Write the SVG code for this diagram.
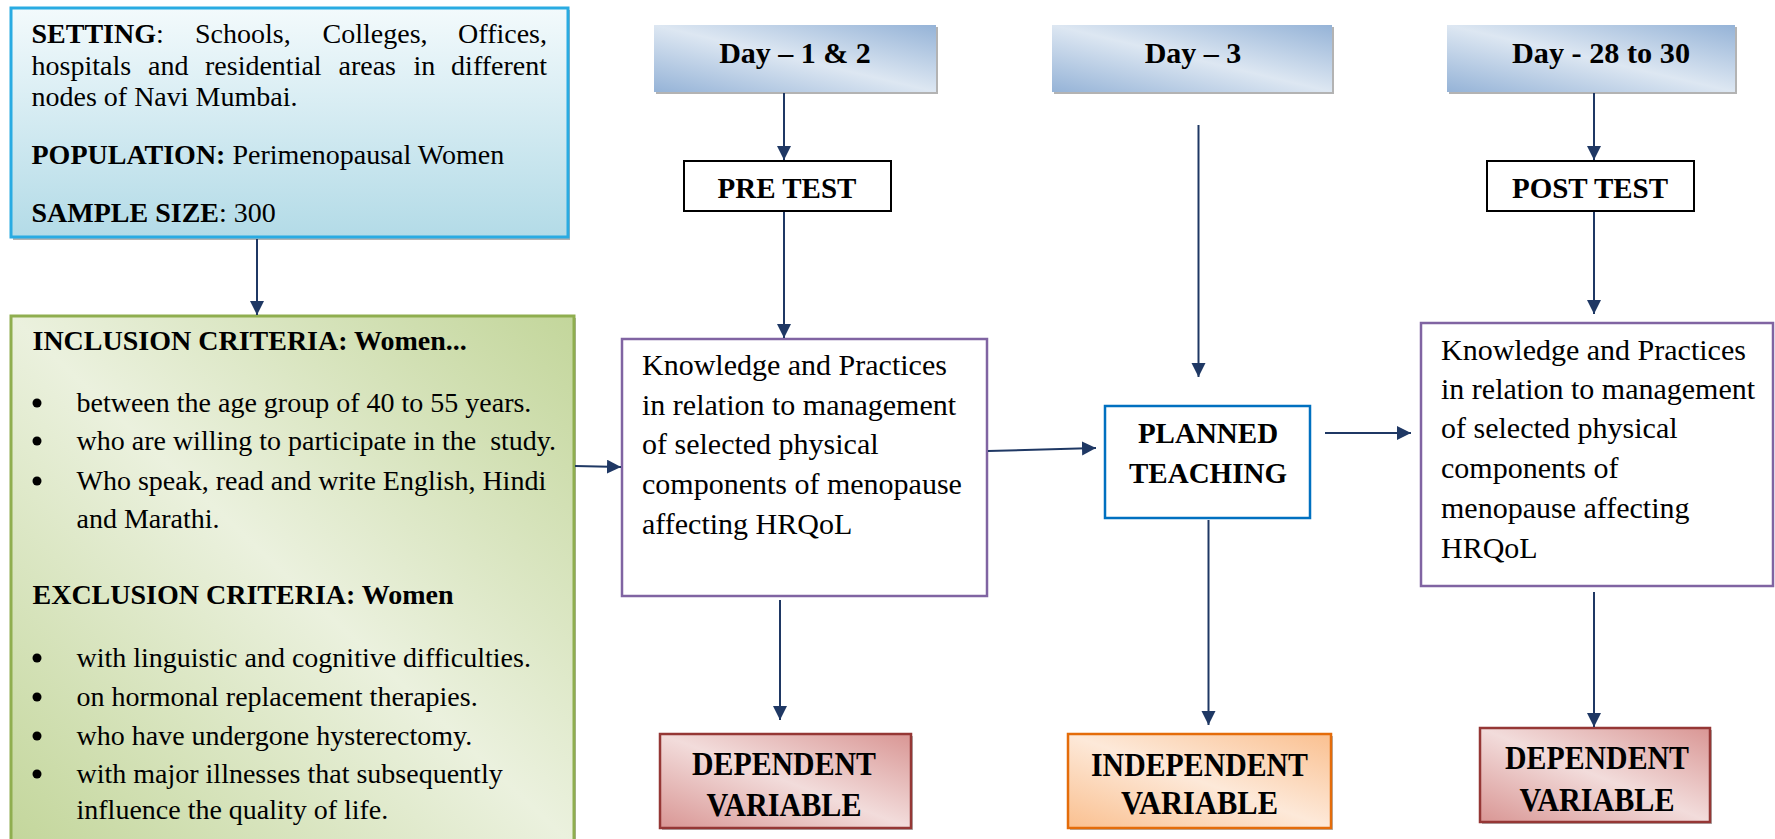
<svg xmlns="http://www.w3.org/2000/svg" width="1775" height="839" viewBox="0 0 1775 839">
<style>
text{font-family:"Liberation Serif","Times New Roman",serif;fill:#000}
.t28{font-size:28px}
.t30{font-size:30px}
.b{font-weight:bold}
.hd{font-size:29px;font-weight:bold;text-anchor:middle}
.day{font-size:30px;font-weight:bold;text-anchor:middle}
.var{font-size:33px;font-weight:bold;text-anchor:middle}
.conn{stroke:#1f3864;stroke-width:2;fill:none;marker-end:url(#ah)}
.shadow{fill:#9a9a9a;opacity:0.75}
</style>
<defs>
<marker id="ah" markerUnits="userSpaceOnUse" markerWidth="16" markerHeight="16" refX="14" refY="7" orient="auto">
<path d="M0,0 L14,7 L0,14 z" fill="#1f3864"/>
</marker>
<linearGradient id="gSet" x1="0" y1="0" x2="0" y2="1">
<stop offset="0" stop-color="#f3fafc"/>
<stop offset="1" stop-color="#b3dbe7"/>
</linearGradient>
<linearGradient id="gGreen" x1="1" y1="0" x2="0" y2="1">
<stop offset="0" stop-color="#c3d69b"/>
<stop offset="0.5" stop-color="#ebf1de"/>
<stop offset="1" stop-color="#c3d69b"/>
</linearGradient>
<linearGradient id="gDay" x1="1" y1="0" x2="0" y2="1">
<stop offset="0" stop-color="#95b3d7"/>
<stop offset="0.5" stop-color="#dde7f2"/>
<stop offset="1" stop-color="#95b3d7"/>
</linearGradient>
<linearGradient id="gDep" x1="1" y1="0" x2="0" y2="1">
<stop offset="0" stop-color="#d99694"/>
<stop offset="0.5" stop-color="#f2dcdb"/>
<stop offset="1" stop-color="#d99694"/>
</linearGradient>
<linearGradient id="gInd" x1="1" y1="0" x2="0" y2="1">
<stop offset="0" stop-color="#fac090"/>
<stop offset="0.5" stop-color="#fde9d9"/>
<stop offset="1" stop-color="#fac090"/>
</linearGradient>
</defs>
<rect width="1775" height="839" fill="#ffffff"/>

<g id="setting">
<rect class="shadow" x="13" y="10" width="557" height="230"/>
<rect x="11" y="8" width="557" height="229" fill="url(#gSet)" stroke="#29abe2" stroke-width="3"/>
<text class="t28" y="43"><tspan x="31.5" class="b">SETTING</tspan><tspan>:</tspan><tspan x="195">Schools,</tspan><tspan x="322.6">Colleges,</tspan><tspan x="547" text-anchor="end">Offices,</tspan></text>
<text class="t28" y="75"><tspan x="31.5">hospitals</tspan><tspan x="148">and</tspan><tspan x="205">residential</tspan><tspan x="338.5">areas</tspan><tspan x="413.6">in</tspan><tspan x="547" text-anchor="end">different</tspan></text>
<text class="t28" x="31.5" y="106">nodes of Navi Mumbai.</text>
<text class="t28" x="31.5" y="164"><tspan class="b">POPULATION:</tspan> Perimenopausal Women</text>
<text class="t28" x="31.5" y="222"><tspan class="b">SAMPLE SIZE</tspan>: 300</text>
</g>

<g id="criteria">
<rect class="shadow" x="13" y="318" width="563" height="530"/>
<rect x="11" y="316" width="563" height="530" fill="url(#gGreen)" stroke="#8fae4f" stroke-width="3"/>
<text class="t28 b" x="32.5" y="350">INCLUSION CRITERIA: Women...</text>
<circle cx="37" cy="403" r="4.5" fill="#000"/>
<circle cx="37" cy="441" r="4.5" fill="#000"/>
<circle cx="37" cy="481" r="4.5" fill="#000"/>
<text class="t28" x="76.5" y="412">between the age group of 40 to 55 years.</text>
<text class="t28" x="76.5" y="450" xml:space="preserve">who are willing to participate in the  study.</text>
<text class="t28" x="76.5" y="490">Who speak, read and write English, Hindi</text>
<text class="t28" x="76.5" y="528">and Marathi.</text>
<text class="t28 b" x="32.5" y="604">EXCLUSION CRITERIA: Women</text>
<circle cx="37" cy="658" r="4.5" fill="#000"/>
<circle cx="37" cy="697" r="4.5" fill="#000"/>
<circle cx="37" cy="736" r="4.5" fill="#000"/>
<circle cx="37" cy="774" r="4.5" fill="#000"/>
<text class="t28" x="76.5" y="667">with linguistic and cognitive difficulties.</text>
<text class="t28" x="76.5" y="706">on hormonal replacement therapies.</text>
<text class="t28" x="76.5" y="745">who have undergone hysterectomy.</text>
<text class="t28" x="76.5" y="783">with major illnesses that subsequently</text>
<text class="t28" x="76.5" y="819">influence the quality of life.</text>
</g>

<g id="day12">
<rect class="shadow" x="656" y="27" width="282" height="67"/>
<rect x="654" y="25" width="282" height="67" fill="url(#gDay)"/>
<text class="day" x="795" y="63">Day – 1 &amp; 2</text>
</g>
<g id="day3">
<rect class="shadow" x="1054" y="27" width="280" height="67"/>
<rect x="1052" y="25" width="280" height="67" fill="url(#gDay)"/>
<text class="day" x="1193" y="63">Day – 3</text>
</g>
<g id="day28">
<rect class="shadow" x="1449" y="27" width="288" height="67"/>
<rect x="1447" y="25" width="288" height="67" fill="url(#gDay)"/>
<text class="day" x="1601" y="63" textLength="178" lengthAdjust="spacingAndGlyphs">Day - 28 to 30</text>
</g>

<g id="pretest">
<rect x="684" y="161" width="207" height="50" fill="#fff" stroke="#000" stroke-width="2"/>
<text class="hd" x="787" y="198">PRE TEST</text>
</g>
<g id="posttest">
<rect x="1487" y="161" width="207" height="50" fill="#fff" stroke="#000" stroke-width="2"/>
<text class="hd" x="1590" y="198">POST TEST</text>
</g>

<g id="knowledge1">
<rect x="622" y="339" width="365" height="257" fill="#fff" stroke="#8064a2" stroke-width="2.5"/>
<text class="t30" x="642" y="375">Knowledge and Practices</text>
<text class="t30" x="642" y="415">in relation to management</text>
<text class="t30" x="642" y="454">of selected physical</text>
<text class="t30" x="642" y="494">components of menopause</text>
<text class="t30" x="642" y="534">affecting HRQoL</text>
</g>

<g id="planned">
<rect x="1105" y="406" width="205" height="112" fill="#fff" stroke="#0070c0" stroke-width="2.5"/>
<text class="hd" x="1208" y="443">PLANNED</text>
<text class="hd" x="1208" y="483">TEACHING</text>
</g>

<g id="knowledge2">
<rect x="1421" y="323" width="352" height="263" fill="#fff" stroke="#8064a2" stroke-width="2.5"/>
<text class="t30" x="1441" y="360">Knowledge and Practices</text>
<text class="t30" x="1441" y="399">in relation to management</text>
<text class="t30" x="1441" y="438">of selected physical</text>
<text class="t30" x="1441" y="478">components of</text>
<text class="t30" x="1441" y="518">menopause affecting</text>
<text class="t30" x="1441" y="558">HRQoL</text>
</g>

<g id="dependent1">
<rect class="shadow" x="662" y="736" width="251" height="94"/>
<rect x="660" y="734" width="251" height="94" fill="url(#gDep)" stroke="#953735" stroke-width="2.5"/>
<text class="var" x="784" y="775" textLength="184" lengthAdjust="spacingAndGlyphs">DEPENDENT</text>
<text class="var" x="784" y="816" textLength="155" lengthAdjust="spacingAndGlyphs">VARIABLE</text>
</g>
<g id="independent">
<rect class="shadow" x="1070" y="736" width="263" height="94"/>
<rect x="1068" y="734" width="263" height="94" fill="url(#gInd)" stroke="#e46c0a" stroke-width="2.5"/>
<text class="var" x="1199.5" y="776" textLength="217" lengthAdjust="spacingAndGlyphs">INDEPENDENT</text>
<text class="var" x="1199.5" y="814" textLength="157" lengthAdjust="spacingAndGlyphs">VARIABLE</text>
</g>
<g id="dependent2">
<rect class="shadow" x="1482" y="730" width="230" height="94"/>
<rect x="1480" y="728" width="230" height="94" fill="url(#gDep)" stroke="#953735" stroke-width="2.5"/>
<text class="var" x="1597" y="769" textLength="184" lengthAdjust="spacingAndGlyphs">DEPENDENT</text>
<text class="var" x="1597" y="811" textLength="155" lengthAdjust="spacingAndGlyphs">VARIABLE</text>
</g>

<g id="connectors">
<path class="conn" d="M257,239 L257,315"/>
<path class="conn" d="M575,466 L621,467"/>
<path class="conn" d="M784,93 L784,160"/>
<path class="conn" d="M784,212 L784,338"/>
<path class="conn" d="M988,451 L1096,448"/>
<path class="conn" d="M1198.5,125 L1198.5,377"/>
<path class="conn" d="M1325,433 L1411,433"/>
<path class="conn" d="M1594,93 L1594,160"/>
<path class="conn" d="M1594,212 L1594,314"/>
<path class="conn" d="M780,600 L780,720"/>
<path class="conn" d="M1208.5,520 L1208.5,725"/>
<path class="conn" d="M1594,592 L1594,727"/>
</g>
</svg>
